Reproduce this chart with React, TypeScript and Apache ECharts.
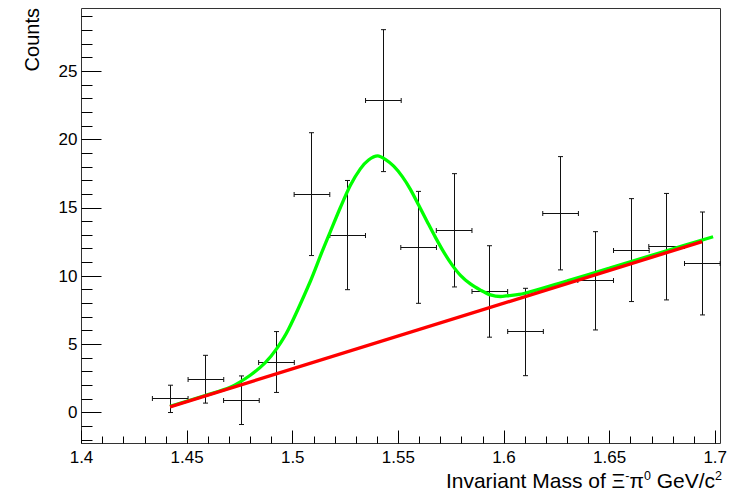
import React, { useEffect, useRef } from "react";
import * as echarts from "echarts";

// Histogram points (bin centres), counts and errors
const binCenters = [1.442, 1.4589, 1.4757, 1.4923, 1.5091, 1.526, 1.5429, 1.5596, 1.5764, 1.5933, 1.6102, 1.6268, 1.6434, 1.6603, 1.677, 1.6939];
const counts = [1.0, 2.44, 0.9, 3.7, 16.0, 13.0, 22.85, 12.1, 13.35, 8.87, 5.9, 14.6, 9.65, 11.9, 12.15, 10.92];
const countErrors = [1.0, 1.75, 1.78, 2.23, 4.5, 4.0, 5.2, 4.1, 4.15, 3.35, 3.2, 4.15, 3.6, 3.77, 3.9, 3.77];
const binHalfWidth = 0.00844;

// Fit curves
const fitX = [1.4419, 1.4585, 1.4704, 1.4799, 1.487, 1.4925, 1.498, 1.5083, 1.5138, 1.5178, 1.5225, 1.5273, 1.532, 1.5359, 1.5402, 1.5438, 1.5478, 1.5518, 1.5557, 1.5596, 1.5636, 1.5675, 1.5715, 1.5755, 1.5794, 1.5841, 1.5889, 1.5936, 1.5983, 1.6015, 1.6094, 1.63, 1.65, 1.675, 1.699];
const fitY = [0.45, 1.25, 1.85, 2.73, 3.65, 4.7, 6.1, 9.6, 11.75, 13.25, 15.0, 16.65, 17.85, 18.5, 18.8, 18.55, 18.05, 17.3, 16.35, 15.2, 14.0, 12.85, 11.75, 10.8, 10.05, 9.42, 8.97, 8.62, 8.5, 8.55, 8.72, 9.65, 10.58, 11.76, 12.88];
const bgX = [1.4419, 1.6938];
const bgY = [0.41, 12.52];

// Axis ticks
const xMajorTicks = [1.4, 1.45, 1.5, 1.55, 1.6, 1.65, 1.7];
const xMinorTicks = [1.41, 1.42, 1.43, 1.44, 1.46, 1.47, 1.48, 1.49, 1.51, 1.52, 1.53, 1.54, 1.56, 1.57, 1.58, 1.59, 1.61, 1.62, 1.63, 1.64, 1.66, 1.67, 1.68, 1.69];
const yMajorTicks = [0, 5, 10, 15, 20, 25];
const yMinorTicks = [-2, -1, 1, 2, 3, 4, 6, 7, 8, 9, 11, 12, 13, 14, 16, 17, 18, 19, 21, 22, 23, 24, 26, 27, 28, 29];
const xRange = [1.4, 1.7025];
const yRange = [-2.27, 29.6];

const FONT = "'Liberation Sans', Arial, Helvetica, sans-serif";

export default function App() {
  const ref = useRef<HTMLDivElement>(null);
  useEffect(() => {
    document.body.style.margin = "0";
    if (!ref.current) return;
    const chart = echarts.init(ref.current, null, { renderer: "svg" });
    const errData = binCenters.map((x, i) => [x, counts[i], binHalfWidth, countErrors[i]]);
    const crisp = (v: number) => Math.round(v - 0.5) + 0.5;
    const tickStyle = { color: "#000", width: 1 };
    const option: any = {
      animation: false,
      backgroundColor: "#fff",
      textStyle: { fontFamily: FONT },
      grid: {
        left: 81.5,
        right: 23.5,
        top: 8.5,
        bottom: 50.5,
        show: true,
        borderColor: "#333",
        borderWidth: 1,
        backgroundColor: "transparent",
      },
      xAxis: [
        {
          type: "value",
          min: xRange[0],
          max: xRange[1],
          position: "bottom",
          axisLine: { show: false, onZero: false },
          splitLine: { show: false },
          axisTick: { show: true, inside: true, length: 13, customValues: xMajorTicks, lineStyle: tickStyle },
          axisLabel: {
            show: true,
            customValues: xMajorTicks,
            formatter: (v: number) => String(+v.toFixed(2)),
            fontSize: 17,
            color: "#000",
            margin: 5,
            fontFamily: FONT,
          },
        },
        {
          type: "value",
          min: xRange[0],
          max: xRange[1],
          position: "bottom",
          axisLine: { show: false, onZero: false },
          splitLine: { show: false },
          axisTick: { show: true, inside: true, length: 7, customValues: xMinorTicks, lineStyle: tickStyle },
          axisLabel: { show: false },
        },
      ],
      yAxis: [
        {
          type: "value",
          min: yRange[0],
          max: yRange[1],
          position: "left",
          axisLine: { show: false, onZero: false },
          splitLine: { show: false },
          axisTick: { show: true, inside: true, length: 20, customValues: yMajorTicks, lineStyle: tickStyle },
          axisLabel: {
            show: true,
            customValues: yMajorTicks,
            fontSize: 17,
            color: "#000",
            margin: 4,
            fontFamily: FONT,
          },
        },
        {
          type: "value",
          min: yRange[0],
          max: yRange[1],
          position: "left",
          axisLine: { show: false, onZero: false },
          splitLine: { show: false },
          axisTick: { show: true, inside: true, length: 11, customValues: yMinorTicks, lineStyle: tickStyle },
          axisLabel: { show: false },
        },
      ],
      series: [
        {
          type: "custom",
          xAxisIndex: 0,
          yAxisIndex: 0,
          data: errData,
          encode: { x: 0, y: 1 },
          z: 2,
          renderItem: (params: any, api: any) => {
            const x = api.value(0);
            const y = api.value(1);
            const ex = api.value(2);
            const ey = api.value(3);
            const c = api.coord([x, y]);
            const l = api.coord([x - ex, y]);
            const r = api.coord([x + ex, y]);
            const t = api.coord([x, y + ey]);
            const b = api.coord([x, y - ey]);
            const cx = crisp(c[0]);
            const cy = crisp(c[1]);
            const cap = 2.5;
            const style = { stroke: "#111", lineWidth: 1 };
            const line = (x1: number, y1: number, x2: number, y2: number) => ({ type: "line", shape: { x1, y1, x2, y2 }, style });
            return {
              type: "group",
              children: [
                line(l[0], cy, r[0], cy),
                line(cx, t[1], cx, b[1]),
                line(l[0], cy - cap, l[0], cy + cap),
                line(r[0], cy - cap, r[0], cy + cap),
                line(cx - cap, t[1], cx + cap, t[1]),
                line(cx - cap, b[1], cx + cap, b[1]),
              ],
            };
          },
        },
        {
          type: "line",
          name: "fit",
          data: fitX.map((x, i) => [x, fitY[i]]),
          smooth: 0.3,
          symbol: "none",
          z: 3,
          lineStyle: { color: "#00ff00", width: 3.3 },
        },
        {
          type: "line",
          name: "background",
          data: bgX.map((x, i) => [x, bgY[i]]),
          symbol: "none",
          z: 4,
          lineStyle: { color: "#ff0000", width: 3.3 },
        },
      ],
      graphic: [
        {
          type: "text",
          x: 32,
          y: 8,
          rotation: Math.PI / 2,
          style: {
            text: "Counts",
            font: `20px ${FONT}`,
            fill: "#000",
            align: "right",
            verticalAlign: "middle",
          },
        },
        {
          type: "text",
          x: 722,
          y: 480,
          style: {
            text: "{b|Invariant Mass of Ξ}{s|-}{b|π}{s|0}{b| GeV/c}{s|2}",
            align: "right",
            verticalAlign: "middle",
            fill: "#000",
            rich: {
              b: { fontSize: 21, fontFamily: FONT, fill: "#000", lineHeight: 22, verticalAlign: "bottom" },
              s: { fontSize: 12.5, fontFamily: FONT, fill: "#000", lineHeight: 22, verticalAlign: "top" },
            },
          },
        },
      ],
    };
    chart.setOption(option);
    return () => chart.dispose();
  }, []);
  return <div ref={ref} style={{ width: 744, height: 494 }} />;
}
